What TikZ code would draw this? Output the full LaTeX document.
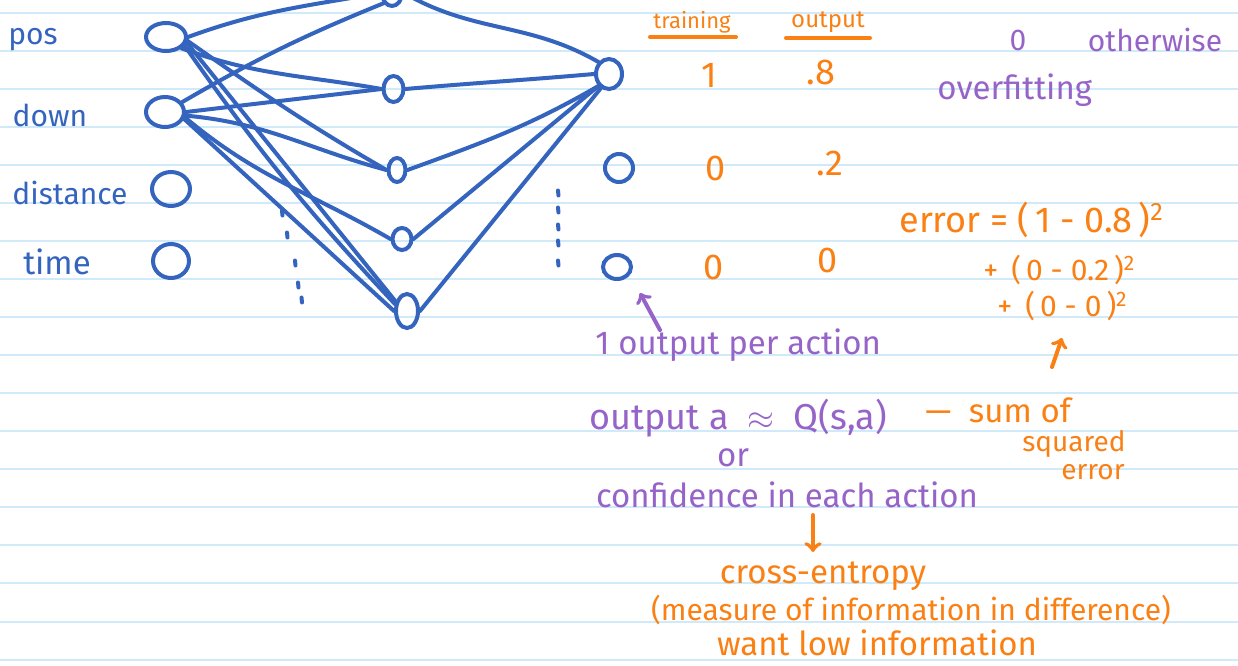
\documentclass[tikz,border=0pt]{standalone}
\usepackage{fontspec}
\setmainfont{Fira Sans}
\usetikzlibrary{shapes.geometric}
\definecolor{inkblue}{RGB}{52,100,190}
\definecolor{inkorange}{RGB}{250,128,20}
\definecolor{inkpurple}{RGB}{150,100,200}
\definecolor{ruleblue}{RGB}{208,234,250}
\tikzset{
  neuron/.style={draw=inkblue,ellipse,line width=2pt,inner sep=0pt},
  wire/.style={inkblue,line width=2pt,line cap=round},
  hand/.style={inner sep=0pt,font=\fontsize{15}{18}\selectfont},
  handbig/.style={inner sep=0pt,font=\fontsize{16.5}{18}\selectfont},
  big/.style={inner sep=0pt,font=\fontsize{18}{20}\selectfont},
  pen/.style={line width=2pt,line cap=round},
}
\begin{document}
\begin{tikzpicture}[x=0.5pt,y=-0.5pt]
\useasboundingbox (0,0) rectangle (1238,665);
\clip (0,0) rectangle (1238,665);
\fill[white] (0,0) rectangle (1238,665);
\foreach \k in {0,...,17}
  \draw[ruleblue,line width=1pt] (0,12.7+38.05*\k) -- (1238,12.7+38.05*\k);

% input layer
\node[neuron,minimum width=20pt,minimum height=14pt] (pos) at (166,37) {};
\node[neuron,minimum width=19pt,minimum height=15pt] (down) at (165,112) {};
\node[neuron,minimum width=19pt,minimum height=17pt] (dist) at (171,189) {};
\node[neuron,minimum width=18pt,minimum height=17pt] (time) at (171,261) {};
\node[hand,inkblue] (lpos) at (33,40) {pos};
\node[hand,inkblue] (ldown) at (50,115) {down};
\node[hand,inkblue] (ldist) at (70,193) {distance};
\node[handbig,inkblue] (ltime) at (57,262) {time};

% hidden layer
\node[neuron,minimum width=10pt,minimum height=13pt] (hT) at (392,-7) {};
\node[neuron,minimum width=10pt,minimum height=13pt] (h1) at (393.5,89) {};
\node[neuron,minimum width=8.5pt,minimum height=12pt] (h2) at (397,170) {};
\node[neuron,minimum width=9.5pt,minimum height=11pt] (h3) at (402,239) {};
\node[neuron,minimum width=11pt,minimum height=17pt] (h4) at (407,311) {};

% output layer
\node[neuron,minimum width=13pt,minimum height=15pt] (o1) at (609,74) {};
\node[neuron,minimum width=14pt,minimum height=14pt] (o2) at (619,168) {};
\node[neuron,minimum width=14pt,minimum height=12pt] (o3) at (617,267) {};

% connections
\draw[wire] (pos.east) to[out=20,in=190] (hT.west);
\draw[wire] (pos.south east) to[out=-20,in=170] (h1.west);
\draw[wire] (pos.-10) to[out=-35,in=150] (h2.west);
\draw[wire] (pos.-15) -- (h4.140);
\draw[wire] (pos.-25) to[bend right=4] (h4.150);
\draw[wire] (down.30) to[bend left=4] (hT.230);
\draw[wire] (down.east) -- (h1.west);
\draw[wire] (down.-10) to[out=-5,in=165] (h2.west);
\draw[wire] (down.-15) to[out=-40,in=150] (h3.west);
\draw[wire] (down.-20) -- (h4.west);
\draw[wire] (hT.east) to[out=-30,in=150] (o1.north west);
\draw[wire] (h1.east) to[out=5,in=185] (o1.west);
\draw[wire] (h2.east) to[out=20,in=210] (o1.south west);
\draw[wire] (h3.east) -- (o1.south west);
\draw[wire] (h4.east) -- (o1.-120);

% dots
\foreach \x/\y in {282/213,287/235,295/263,298/285,301.5/300}
  \draw[wire] (\x,\y-2.5) -- (\x+0.5,\y+2.5);
\foreach \y in {193,210,227,243,263}
  \draw[wire] (558,\y-2.5) -- (558.5,\y+2.5);

% table
\node[inner sep=0pt,font=\fontsize{11}{13}\selectfont,inkorange] (train) at (692,22) {training};
\node[inner sep=0pt,font=\fontsize{12}{14}\selectfont,inkorange] (outp) at (828,22) {output};
\draw[pen,inkorange] (650,37) -- (736,37);
\draw[pen,inkorange] (786,38) -- (870,38);
\node[big,inkorange] (t1) at (709,75) {1};
\node[big,inkorange] (p1) at (821,72) {.8};
\node[big,inkorange] (t2) at (716,168) {0};
\node[big,inkorange] (p2) at (830,163) {.2};
\node[big,inkorange] (t3) at (714,267) {0};
\node[big,inkorange] (p3) at (828,260) {0};

% notes
\node[hand,inkpurple] (zero) at (1018,40) {0};
\node[hand,inkpurple] (other) at (1155,40) {otherwise};
\node[handbig,inkpurple,anchor=west] (overfit) at (937,90) {overfitting};
\node[big,inkorange,anchor=west] (err1) at (899,220) {error = (\,1 - 0.8\,)\textsuperscript{2}};
\node[hand,inkorange,anchor=west] (err2) at (983,270) {+ \,(\,0 - 0.2\,)\textsuperscript{2}};
\node[hand,inkorange,anchor=west] (err3) at (997,306) {+ \,(\,0 - 0\,)\textsuperscript{2}};
\coordinate (ea) at (1052,367);
\coordinate (eb) at (1062,338);
\draw[pen,inkorange,->] (ea) -- (eb);
\node[handbig,inkpurple,anchor=west] (per) at (595,345) {1 output per action};
\coordinate (pa) at (660,330);
\coordinate (pb) at (640,293);
\draw[pen,inkpurple,->] (pa) -- (pb);
\node[big,inkpurple,anchor=west] (qsa) at (589,418) {output a \ $\approx$ \ Q(s,a)};
\node[handbig,inkorange,anchor=west] (sum) at (925,410) {— \ sum of};
\node[inner sep=0pt,font=\fontsize{14}{16}\selectfont,inkorange] (sq) at (1074,444) {squared};
\node[inner sep=0pt,font=\fontsize{14}{16}\selectfont,inkorange] (sqe) at (1093,472) {error};
\node[handbig,inkpurple] (or) at (733,458) {or};
\node[handbig,inkpurple] (conf) at (787,495) {confidence in each action};
\coordinate (ca) at (813,515);
\coordinate (cb) at (813,552);
\draw[pen,inkorange,->] (ca) -- (cb);
\node[handbig,inkorange] (ce) at (823,576) {cross-entropy};
\node[hand,inkorange] (meas) at (911,610) {(measure of information in difference)};
\node[handbig,inkorange] (low) at (877,643) {want low information};
\end{tikzpicture}
\end{document}
